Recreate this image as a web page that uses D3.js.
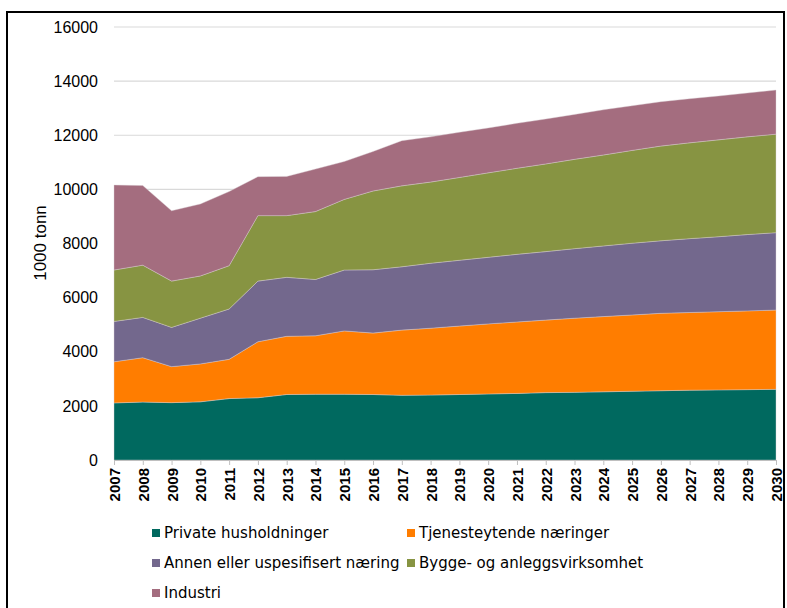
<!DOCTYPE html>
<html>
<head>
<meta charset="utf-8">
<script src="https://cdn.jsdelivr.net/npm/d3@7"></script>
<style>
  body { margin: 0; background: #fff; }
  svg { display: block; }
</style>
</head>
<body>
<div id="chart"></div>
<script>
// years on the x axis
const years = [2007, 2008, 2009, 2010, 2011, 2012, 2013, 2014, 2015, 2016, 2017, 2018,
               2019, 2020, 2021, 2022, 2023, 2024, 2025, 2026, 2027, 2028, 2029, 2030];

// series names, bottom to top
const seriesNames = ["Private husholdninger", "Tjenesteytende næringer",
                     "Annen eller uspesifisert næring", "Bygge- og anleggsvirksomhet", "Industri"];

// values in 1000 tonn
const privateHH = [2110, 2140, 2120, 2150, 2270, 2300, 2420, 2430, 2430, 2420, 2390, 2400,
                   2420, 2440, 2460, 2490, 2500, 2520, 2540, 2560, 2580, 2590, 2600, 2610];
const tjeneste  = [1520, 1640, 1330, 1400, 1450, 2070, 2150, 2160, 2340, 2270, 2410, 2470,
                   2530, 2590, 2640, 2680, 2740, 2780, 2820, 2860, 2870, 2890, 2910, 2930];
const annen     = [1490, 1490, 1450, 1690, 1860, 2240, 2180, 2080, 2250, 2340, 2340, 2400,
                   2430, 2460, 2500, 2530, 2570, 2610, 2650, 2680, 2730, 2770, 2820, 2860];
const bygg      = [1900, 1930, 1710, 1560, 1600, 2420, 2280, 2510, 2610, 2910, 2990, 3000,
                   3060, 3120, 3180, 3240, 3300, 3360, 3430, 3500, 3540, 3580, 3610, 3640];
const industri  = [3140, 2940, 2600, 2660, 2740, 1440, 1450, 1570, 1400, 1460, 1670, 1670,
                   1670, 1660, 1660, 1660, 1660, 1670, 1650, 1640, 1630, 1620, 1620, 1630];

const yTicks = [0, 2000, 4000, 6000, 8000, 10000, 12000, 14000, 16000];

const colors = ["#00695f", "#ff7d00", "#73688d", "#879442", "#a46d7f"];

const width = 787, height = 608;
const margin = {top: 27, left: 114, right: 11, bottom: 148};
const innerW = width - margin.left - margin.right;
const innerH = height - margin.top - margin.bottom;

// build rows for the stack
const seriesValues = [privateHH, tjeneste, annen, bygg, industri];
const rows = years.map((yr, i) => {
    let row = {year: yr};
    seriesNames.forEach((name, j) => { row[name] = seriesValues[j][i]; });
    return row;
});

const svg = d3.select("#chart").append("svg")
    .attr("width", width)
    .attr("height", height);

// frame around the figure
svg.append("rect")
    .attr("x", 7).attr("y", 12)
    .attr("width", 777).attr("height", 620)
    .attr("fill", "none")
    .attr("stroke", "#000")
    .attr("stroke-width", 2);

const g = svg.append("g")
    .attr("transform", `translate(${margin.left},${margin.top})`);

const x = d3.scaleLinear()
    .domain([2007, 2030])
    .range([0, innerW]);

const y = d3.scaleLinear()
    .domain([0, 16000])
    .range([innerH, 0]);

// gridlines
g.append("g")
    .selectAll("line")
    .data(yTicks.slice(1))
    .enter().append("line")
    .attr("x1", 0).attr("x2", innerW)
    .attr("y1", d => y(d)).attr("y2", d => y(d))
    .attr("stroke", "#d9d9d9")
    .attr("stroke-width", 1.2);

// stacked areas
const stack = d3.stack().keys(seriesNames);
const layers = stack(rows);

const area = d3.area()
    .x(d => x(d.data.year))
    .y0(d => y(d[0]))
    .y1(d => y(d[1]));

g.selectAll(".layer")
    .data(layers)
    .enter().append("path")
    .attr("class", "layer")
    .attr("d", area)
    .attr("fill", (d, i) => colors[i])
    .attr("stroke", "#d8d0d4")
    .attr("stroke-width", 0.4);

// y axis
const yAxis = g.append("g")
    .call(d3.axisLeft(y).tickValues(yTicks).tickSize(0).tickPadding(16).tickFormat(d3.format("d")));
yAxis.select(".domain").remove();
yAxis.selectAll("text")
    .attr("font-family", "Liberation Sans, Arial, sans-serif")
    .attr("font-size", "16px")
    .attr("fill", "#000");

// x axis
const xAxis = g.append("g")
    .attr("transform", `translate(0,${innerH})`)
    .call(d3.axisBottom(x).tickValues(years).tickSize(5).tickFormat(d3.format("d")));
xAxis.select(".domain").attr("stroke", "#bfbfbf");
xAxis.selectAll(".tick line").attr("stroke", "#bfbfbf");
xAxis.selectAll("text")
    .attr("font-family", "Liberation Sans, Arial, sans-serif")
    .attr("font-size", "15px")
    .attr("font-weight", "bold")
    .attr("fill", "#000")
    .attr("text-anchor", "end")
    .attr("dominant-baseline", "central")
    .attr("transform", "rotate(-90)")
    .attr("x", -8)
    .attr("y", 0)
    .attr("dy", 0);

// y axis title
svg.append("text")
    .attr("transform", "translate(46,243) rotate(-90)")
    .attr("text-anchor", "middle")
    .attr("font-family", "Liberation Sans, Arial, sans-serif")
    .attr("font-size", "17px")
    .attr("fill", "#000")
    .text("1000 tonn");

// legend
const legendPos = [[152, 533], [407, 533], [152, 563], [407, 563], [152, 593]];
const legend = svg.append("g");
seriesNames.forEach((name, i) => {
    let item = legend.append("g")
        .attr("transform", `translate(${legendPos[i][0]},${legendPos[i][1]})`);
    item.append("rect")
        .attr("x", 0).attr("y", -4)
        .attr("width", 8).attr("height", 8)
        .attr("fill", colors[i]);
    item.append("text")
        .attr("x", 12)
        .attr("y", 0)
        .attr("dominant-baseline", "central")
        .attr("font-family", "DejaVu Sans, Verdana, sans-serif")
        .attr("font-size", "15px")
        .attr("fill", "#000")
        .text(name);
});
</script>
</body>
</html>
